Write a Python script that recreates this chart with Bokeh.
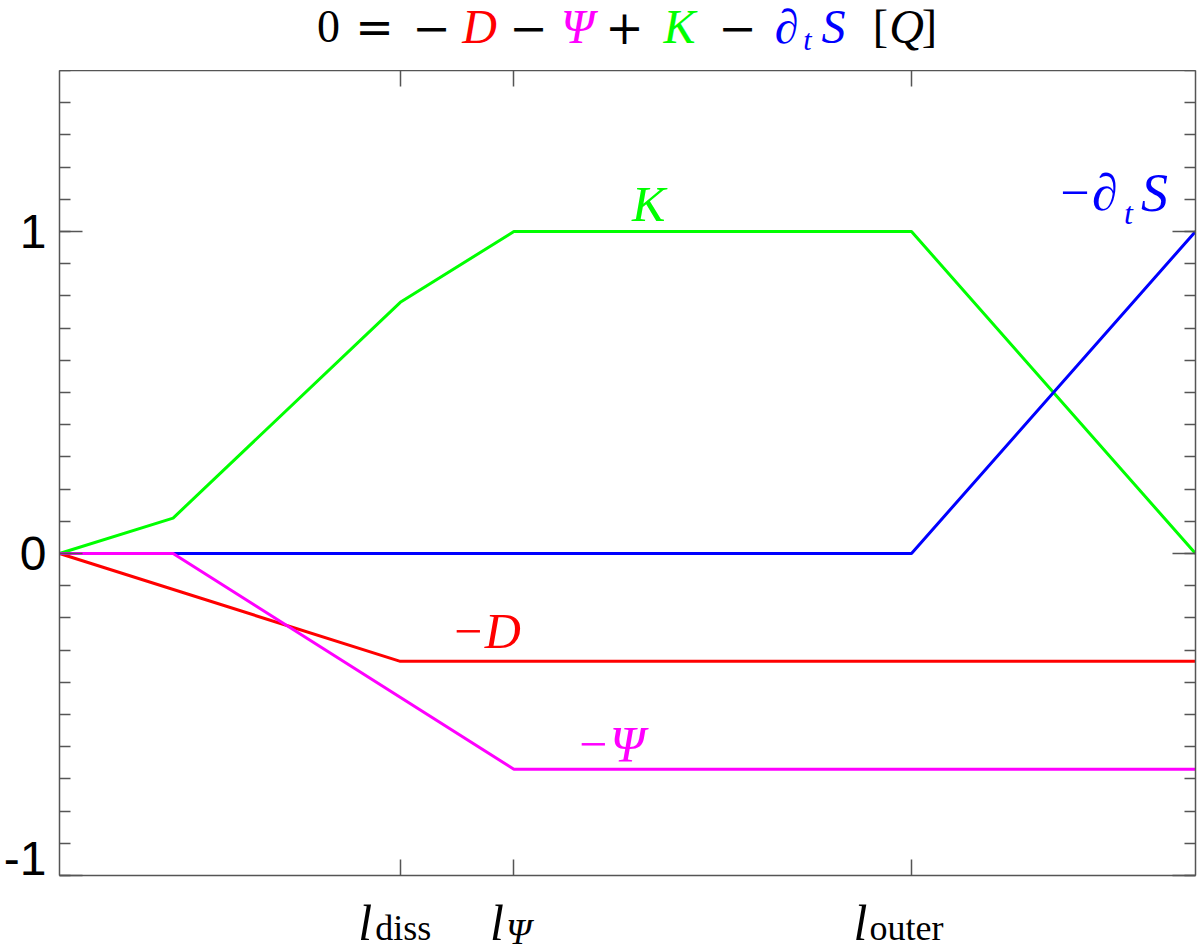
from bokeh.plotting import figure
from bokeh.layouts import column
from bokeh.models import Range1d, LinearAxis, FixedTicker, Label
from bokeh.embed import file_html
from bokeh.resources import INLINE

# ---- data ----
x_K = [0, 1, 3, 4, 7.5, 10]
y_K = [0, 0.11, 0.78, 1.0, 1.0, 0.0]
x_S = [0, 7.5, 10]
y_S = [0, 0, 1.0]
x_D = [0, 3, 10]
y_D = [0, -0.335, -0.335]
x_P = [0, 1, 4, 10]
y_P = [0, 0, -0.67, -0.67]

x_ticks = [3, 4, 7.5]
x_tick_main = ["l", "l", "l"]
x_tick_sub = ["diss", "Ψ", "outer"]
y_ticks = [-1, 0, 1]
y_tick_labels = ["-1", "0", "1"]
y_label_pos = [-1 + 0.053, 0, 1]   # the "-1" label sits slightly above its tick
y_minor = [round(-1 + 0.1 * i, 1) for i in range(26)]

RED, MAG, GRN, BLU = "#ff0000", "#ff00ff", "#00ff00", "#0000ff"
AXC = "#555555"
SERIF = "Liberation Serif"
OPFONT = "DejaVu Serif"
SANS = "Liberation Sans"
BASE_CORR = 0.36  # label baseline correction (fraction of font size)


def fig(**kw):
    f = figure(output_backend="svg", toolbar_location=None, title_location=None,
               x_axis_location=None, y_axis_location=None, **kw)
    f.outline_line_color = None
    f.xgrid.visible = False
    f.ygrid.visible = False
    f.background_fill_color = "white"
    f.border_fill_color = "white"
    return f


# ---------------- main plot ----------------
p = fig(frame_width=1136, frame_height=805, x_range=Range1d(0, 10), y_range=Range1d(-1, 1.5),
        min_border_left=58, min_border_right=6, min_border_top=0, min_border_bottom=18)


def style_axis(ax, ticker, major_len, minor_len):
    ax.ticker = ticker
    ax.axis_line_color = AXC
    ax.axis_line_width = 1.5
    ax.major_tick_line_color = AXC
    ax.major_tick_line_width = 1.5
    ax.minor_tick_line_color = AXC
    ax.minor_tick_line_width = 1.5
    ax.major_tick_in = major_len
    ax.major_tick_out = 0
    ax.minor_tick_in = minor_len
    ax.minor_tick_out = 0
    ax.major_label_text_font_size = "0px"
    ax.major_label_overrides = {t: "" for t in ticker.ticks}
    ax.major_label_standoff = 0


for side in ["left", "right"]:
    ax = LinearAxis()
    style_axis(ax, FixedTicker(ticks=y_ticks, minor_ticks=y_minor), 23, 11)
    p.add_layout(ax, side)
for side in ["below", "above"]:
    ax = LinearAxis()
    style_axis(ax, FixedTicker(ticks=x_ticks, minor_ticks=[]), 16, 0)
    p.add_layout(ax, side)

# outer left axis carrying only the tick labels
lab_ax = LinearAxis(ticker=FixedTicker(ticks=y_label_pos, minor_ticks=[]))
lab_ax.axis_line_color = None
lab_ax.major_tick_line_color = None
lab_ax.minor_tick_line_color = None
lab_ax.major_tick_in = 0
lab_ax.major_tick_out = 0
lab_ax.minor_tick_in = 0
lab_ax.minor_tick_out = 0
lab_ax.major_label_overrides = dict(zip(y_label_pos, y_tick_labels))
lab_ax.major_label_text_font = SANS
lab_ax.major_label_text_font_size = "48px"
lab_ax.major_label_text_color = "black"
lab_ax.major_label_standoff = 13
p.add_layout(lab_ax, "left")

p.line(x_K, y_K, line_color=GRN, line_width=3)
p.line(x_S, y_S, line_color=BLU, line_width=3)
p.line(x_D, y_D, line_color=RED, line_width=3)
p.line(x_P, y_P, line_color=MAG, line_width=3)


def lab(f, x, y, t, c, size, style="italic", x_offset=0, align="left", font=SERIF):
    f.add_layout(Label(x=x, y=y, x_offset=x_offset, text=t, text_align=align,
                       text_baseline="alphabetic", text_font=font, text_font_style=style,
                       text_font_size=f"{size}px", text_color=c))


# series labels
lab(p, 3.446, -0.242, "−D", RED, 50)
lab(p, 4.547, -0.593, "−Ψ", MAG, 50)
lab(p, 5.04, 1.084, "K", GRN, 50)
lab(p, 8.78, 1.121, "−∂", BLU, 52)
lab(p, 9.37, 1.057, "t", BLU, 32)
lab(p, 9.52, 1.121, "S", BLU, 54)

# ---------------- title strip (coordinates in pixels) ----------------
t = fig(frame_width=1136, frame_height=70, x_range=Range1d(58, 1194), y_range=Range1d(70, 0),
        min_border_left=58, min_border_right=6, min_border_top=0, min_border_bottom=0)
title_parts = [("0", "black", "normal", 327, 43, 46, SERIF),
               ("=", "black", "normal", 373, 43, 46, OPFONT),
               ("−", "black", "normal", 430, 43, 46, OPFONT),
               ("D", RED, "italic", 478, 43, 48, SERIF),
               ("−", "black", "normal", 527, 43, 46, OPFONT),
               ("Ψ", MAG, "italic", 576, 43, 48, SERIF),
               ("+", "black", "normal", 623, 43, 46, OPFONT),
               ("K", GRN, "italic", 678, 43, 48, SERIF),
               ("−", "black", "normal", 736, 43, 46, OPFONT),
               ("∂", BLU, "italic", 785, 43, 48, SERIF),
               ("t", BLU, "italic", 806, 50, 30, SERIF),
               ("S", BLU, "italic", 832, 43, 48, SERIF),
               ("[", "black", "normal", 879, 43, 46, SERIF),
               ("Q", "black", "italic", 905, 43, 48, SERIF),
               ("]", "black", "normal", 928, 43, 46, SERIF)]
for txt, c, st, px, py, sz, fnt in title_parts:
    lab(t, px, py - BASE_CORR * sz, txt, c, sz, style=st, align="center", font=fnt)

# ---------------- x tick label strip (top of strip = 893 px) ----------------
b = fig(frame_width=1136, frame_height=58, x_range=p.x_range, y_range=Range1d(58, 0),
        min_border_left=58, min_border_right=6, min_border_top=0, min_border_bottom=0)
x_main_off = [-35, -17, -51]
x_sub_off = [-25, -8, -42]
x_sub_base = [47, 51, 47]
for v, m, s, mo, so, sb in zip(x_ticks, x_tick_main, x_tick_sub, x_main_off, x_sub_off, x_sub_base):
    lab(b, v, 47 - BASE_CORR * 50, m, "black", 50, style="italic", x_offset=mo, align="center")
    lab(b, v, sb - BASE_CORR * 36, s, "black", 36, style=("italic" if s == "Ψ" else "normal"),
        x_offset=so, align="left")

layout = column(t, p, b, spacing=0)
open("out.html", "w").write(file_html(layout, INLINE))
